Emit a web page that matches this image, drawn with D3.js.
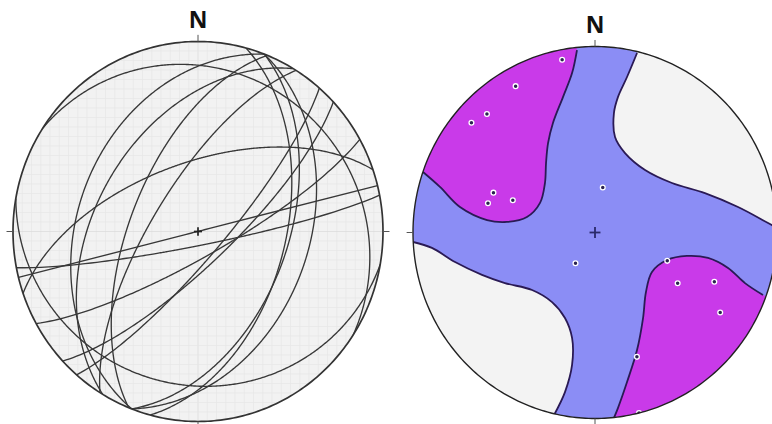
<!DOCTYPE html>
<html>
<head>
<meta charset="utf-8">
<script src="https://cdn.jsdelivr.net/npm/d3@7"></script>
<style>
  html, body { margin: 0; background: #ffffff; }
  svg { display: block; }
</style>
</head>
<body>
<svg id="chart" width="772" height="424"></svg>
<script>
// ---- Data -------------------------------------------------------------
// Measured planes: dip direction (azimuth, deg) and dip (deg)
const dipDirections = [169, 151, 137, 131, 111, 105, 111, 190, 33, 291, 301, 292, 302, 341, 346];
const dips          = [ 84,  79,  76,  79,  50,  51,  40,  20, 16,  35,  44,  60,  70,  60,  90];

// Pole-density contour outlines, net coordinates [east, north], unit radius.
// High-density lobes (NW and SE) and low-density lobes (NE and SW).
const highDensityNW = [[-0.945,0.325],[-0.852,0.245],[-0.742,0.137],[-0.593,0.067],[-0.484,0.057],
  [-0.374,0.083],[-0.302,0.159],[-0.275,0.266],[-0.269,0.374],[-0.258,0.481],[-0.231,0.589],
  [-0.176,0.728],[-0.126,0.857],[-0.099,0.981]];
const highDensitySE = [[0.923,-0.336],[0.824,-0.272],[0.731,-0.191],[0.621,-0.137],[0.505,-0.126],
  [0.396,-0.148],[0.313,-0.212],[0.280,-0.320],[0.264,-0.460],[0.231,-0.632],[0.176,-0.804],
  [0.126,-0.944],[0.104,-0.997]];
const lowDensityNE = [[0.231,0.965],[0.176,0.836],[0.126,0.728],[0.104,0.642],[0.110,0.513],
  [0.165,0.427],[0.275,0.336],[0.423,0.266],[0.604,0.212],[0.786,0.137],[0.951,0.051],[1.011,0.019]];
const lowDensitySW = [[-1.0,-0.051],[-0.896,-0.083],[-0.769,-0.159],[-0.621,-0.228],[-0.495,-0.272],
  [-0.346,-0.309],[-0.236,-0.374],[-0.165,-0.460],[-0.126,-0.567],[-0.126,-0.712],[-0.165,-0.858],
  [-0.225,-0.981]];

const cardinalAzimuths = [0, 90, 180, 270];
const northLabel = "N";

// ---- Projection helpers ----------------------------------------------
const rad = Math.PI / 180;

// Lower-hemisphere equal-area (Schmidt) projection of a line (trend, plunge)
function project(trend, plunge) {
  const r = Math.SQRT2 * Math.sin((90 - plunge) * rad / 2);
  return [r * Math.sin(trend * rad), r * Math.cos(trend * rad)];
}

// Great circle of a plane, traced as lines of apparent dip across the strike
function greatCircle(dd, dip) {
  const d = Math.min(dip, 89.95);
  return d3.range(-90, 90.001, 0.5).map(a => {
    const p = Math.atan(Math.tan(d * rad) * Math.cos(a * rad)) / rad;
    return project(dd + a, p);
  });
}

const planes = dipDirections.map((dd, i) => ({ dd, dip: dips[i] }));
const poles = planes.map(p => ({ trend: (p.dd + 180) % 360, plunge: 90 - p.dip }));

const primitivePts = d3.range(0, 360.001, 1).map(a => [Math.sin(a * rad), Math.cos(a * rad)]);

const svg = d3.select("#chart");
const defs = svg.append("defs");

function makeNet(id, cx, cy, rx, ry) {
  const x = d3.scaleLinear().domain([-1, 1]).range([cx - rx, cx + rx]);
  const y = d3.scaleLinear().domain([-1, 1]).range([cy + ry, cy - ry]);
  const line = d3.line().x(d => x(d[0])).y(d => y(d[1]));
  const g = svg.append("g").attr("id", id);
  defs.append("clipPath").attr("id", id + "-clip")
    .append("path").attr("d", line(primitivePts) + "Z");
  return { x, y, line, g, clip: `url(#${id}-clip)` };
}

function drawFrame(net, primitiveColor, primitiveWidth) {
  net.g.append("path")
    .attr("d", net.line(primitivePts) + "Z")
    .attr("fill", "none")
    .attr("stroke", primitiveColor)
    .attr("stroke-width", primitiveWidth);
  net.g.selectAll("line.tick").data(cardinalAzimuths).join("line")
    .attr("class", "tick")
    .attr("x1", a => net.x(Math.sin(a * rad) * 1.0))
    .attr("y1", a => net.y(Math.cos(a * rad) * 1.0))
    .attr("x2", a => net.x(Math.sin(a * rad) * 1.035))
    .attr("y2", a => net.y(Math.cos(a * rad) * 1.035))
    .attr("stroke", "#555")
    .attr("stroke-width", 1);
  net.g.append("text")
    .attr("x", net.x(0))
    .attr("y", net.y(1) - 13.5)
    .attr("text-anchor", "middle")
    .attr("font-family", "'Open Sans', 'Liberation Sans', Arial, sans-serif")
    .attr("font-weight", 700)
    .attr("font-size", 23)
    .attr("fill", "#111")
    .text(northLabel);
}

function drawCentreCross(net, arm, color, width) {
  const c = [[-arm, 0, arm, 0], [0, -arm, 0, arm]];
  net.g.selectAll("line.cross").data(c).join("line")
    .attr("class", "cross")
    .attr("x1", d => net.x(d[0])).attr("y1", d => net.y(d[1]))
    .attr("x2", d => net.x(d[2])).attr("y2", d => net.y(d[3]))
    .attr("stroke", color).attr("stroke-width", width);
}

// ---- Left: great circles ---------------------------------------------
const left = makeNet("planes", 198, 231.5, 185, 190);
const leftBody = left.g.append("g").attr("clip-path", left.clip);
leftBody.append("path").attr("d", left.line(primitivePts) + "Z").attr("fill", "#f2f2f2");
const gridSteps = d3.range(-1, 1.0001, 0.05);
leftBody.selectAll("line.gv").data(gridSteps).join("line")
  .attr("class", "gv")
  .attr("x1", d => left.x(d)).attr("x2", d => left.x(d))
  .attr("y1", left.y(-1)).attr("y2", left.y(1))
  .attr("stroke", d => Math.abs(d) < 1e-9 ? "#dadada" : "#e7e7e7")
  .attr("stroke-width", 0.7);
leftBody.selectAll("line.gh").data(gridSteps).join("line")
  .attr("class", "gh")
  .attr("y1", d => left.y(d)).attr("y2", d => left.y(d))
  .attr("x1", left.x(-1)).attr("x2", left.x(1))
  .attr("stroke", d => Math.abs(d) < 1e-9 ? "#dadada" : "#e7e7e7")
  .attr("stroke-width", 0.7);

leftBody.selectAll("path.gc").data(planes).join("path")
  .attr("class", "gc")
  .attr("d", p => left.line(greatCircle(p.dd, p.dip)))
  .attr("fill", "none")
  .attr("stroke", "#383838")
  .attr("stroke-width", 1.35);

drawFrame(left, "#333", 1.7);
drawCentreCross(left, 0.022, "#222", 1.7);

// ---- Right: pole density ---------------------------------------------
const right = makeNet("poles", 595, 232.5, 182, 186);
const rightBody = right.g.append("g").attr("clip-path", right.clip);
rightBody.append("path").attr("d", right.line(primitivePts) + "Z").attr("fill", "#8b8df5");

const curve = d3.line().x(d => right.x(d[0])).y(d => right.y(d[1])).curve(d3.curveCatmullRom.alpha(0.5));

// Close an outline along the outside of the primitive so the clip trims it to the net
function lobePath(pts) {
  const a0 = Math.atan2(pts[pts.length - 1][0], pts[pts.length - 1][1]);
  const a1 = Math.atan2(pts[0][0], pts[0][1]);
  let delta = a1 - a0;
  while (delta > Math.PI) delta -= 2 * Math.PI;
  while (delta < -Math.PI) delta += 2 * Math.PI;
  const outside = d3.range(0, 1.0001, 0.1).map(t => {
    const a = a0 + delta * t;
    return [right.x(1.4 * Math.sin(a)), right.y(1.4 * Math.cos(a))];
  });
  return curve(pts) + outside.map(p => "L" + p[0] + "," + p[1]).join("") + "Z";
}

const lobes = [
  { pts: lowDensityNE, fill: "#f3f3f3" },
  { pts: lowDensitySW, fill: "#f3f3f3" },
  { pts: highDensityNW, fill: "#c93ae9" },
  { pts: highDensitySE, fill: "#c93ae9" }
];
rightBody.selectAll("path.lobe").data(lobes).join("path")
  .attr("class", "lobe")
  .attr("d", d => lobePath(d.pts))
  .attr("fill", d => d.fill);
rightBody.selectAll("path.iso").data(lobes).join("path")
  .attr("class", "iso")
  .attr("d", d => curve(d.pts))
  .attr("fill", "none")
  .attr("stroke", "#2a1a55")
  .attr("stroke-width", 1.8);

drawCentreCross(right, 0.03, "#2a2a6a", 1.8);

rightBody.selectAll("circle.pole").data(poles).join("circle")
  .attr("class", "pole")
  .attr("cx", p => right.x(project(p.trend, p.plunge)[0]))
  .attr("cy", p => right.y(project(p.trend, p.plunge)[1]))
  .attr("r", 2.4)
  .attr("fill", "#2a2250")
  .attr("stroke", "#ffffff")
  .attr("stroke-width", 1.3);

drawFrame(right, "#222", 1.4);
</script>
</body>
</html>
